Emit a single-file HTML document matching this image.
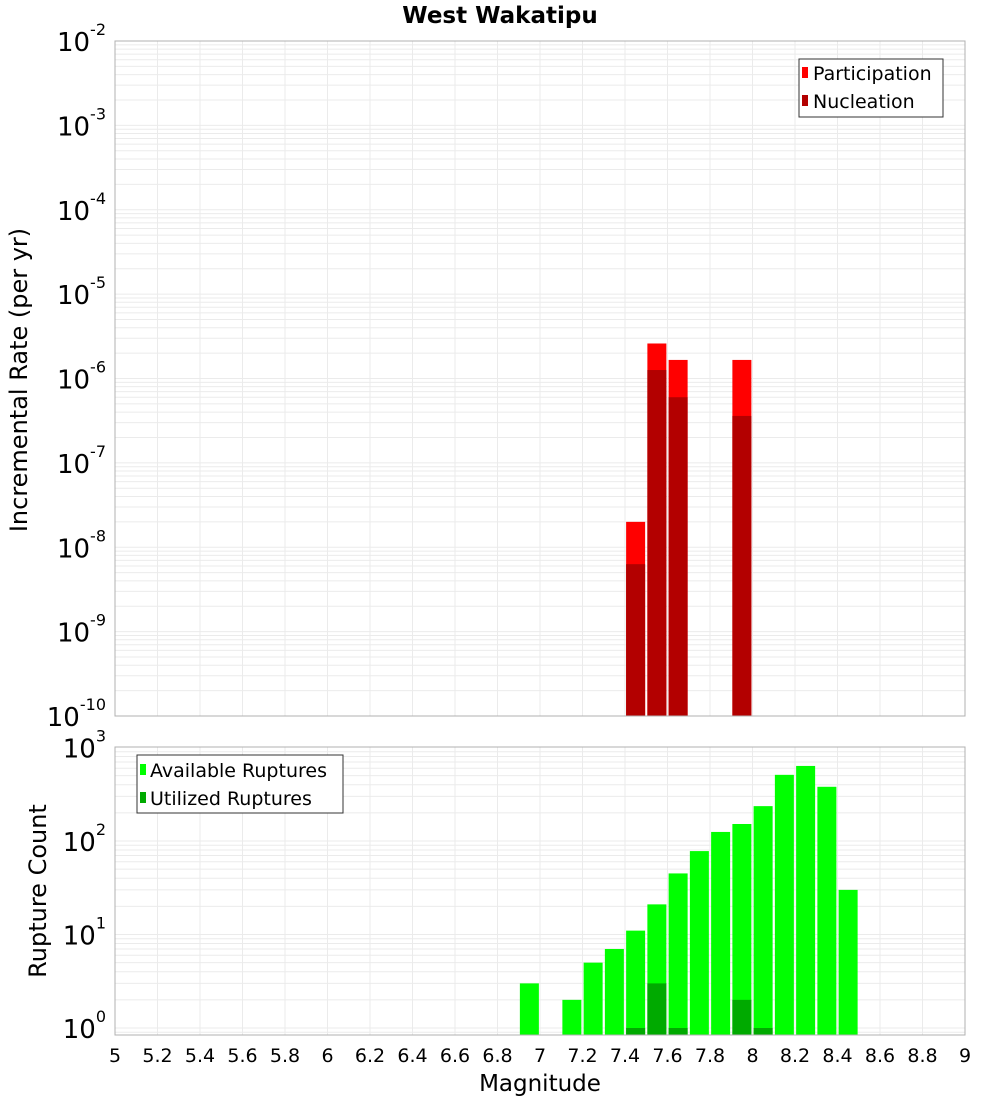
<!DOCTYPE html>
<html><head><meta charset="utf-8"><style>
body{margin:0;background:#fff;font-family:"DejaVu Sans","Liberation Sans",sans-serif}
</style></head><body>
<svg id="c" width="1000" height="1100" xmlns="http://www.w3.org/2000/svg" font-family="DejaVu Sans, Liberation Sans, sans-serif">
<text x="500" y="23" text-anchor="middle" font-size="23" font-weight="bold">West Wakatipu</text>
<g id="top"></g>
<g id="bot"></g>
</svg>
<script>
const rateMags=[7.45,7.55,7.65,7.95];
const participation=[2.0e-8,2.6e-6,1.66e-6,1.66e-6];
const nucleation=[6.3e-9,1.26e-6,6.0e-7,3.6e-7];
const countMags=[6.95,7.15,7.25,7.35,7.45,7.55,7.65,7.75,7.85,7.95,8.05,8.15,8.25,8.35,8.45];
const available=[3,2,5,7,11,21,45,78,125,152,236,510,635,380,30];
const utilMags=[7.45,7.55,7.65,7.95,8.05];
const utilized=[1,3,1,2,1];
const xTicks=[5,5.2,5.4,5.6,5.8,6,6.2,6.4,6.6,6.8,7,7.2,7.4,7.6,7.8,8,8.2,8.4,8.6,8.8,9];
const topExps=[-2,-3,-4,-5,-6,-7,-8,-9,-10];
const botExps=[3,2,1,0];

const NS="http://www.w3.org/2000/svg";
const X0=115,X1=965;
const xs=m=>X0+(m-5)/4*(X1-X0);
function mk(p,t,a){const e=document.createElementNS(NS,t);for(const k in a)e.setAttribute(k,a[k]);p.appendChild(e);return e;}
const yT=v=>41+(-2-Math.log10(v))*(675/8);
const yB=v=>1028-Math.log10(v)*93.5;

function panel(g,top,bot,yf,lo,hi){
  mk(g,'rect',{x:X0,y:top,width:X1-X0,height:bot-top,fill:'#fff'});
  for(let e=lo;e<hi;e++)for(let k=1;k<10;k++){const y=yf(k*Math.pow(10,e));if(y<top||y>bot)continue;
    const l=mk(g,'line',{x1:X0,x2:X1,y1:y,y2:y,stroke:'#ebebeb','stroke-width':1});
    
    }
  xTicks.forEach(t=>{const l=mk(g,'line',{x1:xs(t),x2:xs(t),y1:top,y2:bot,stroke:'#ebebeb'});
    
    });
}
const gt=document.getElementById('top'),gb=document.getElementById('bot');
panel(gt,41,716,yT,-10,-2);
panel(gb,747,1035,yB,-1,3);
function bar(g,m,v,yf,base,col,name){const y=yf(v);const r=mk(g,'rect',{x:xs(m)-9.5,y:y,width:19,height:base-y,fill:col});
  
  }
rateMags.forEach((m,i)=>bar(gt,m,participation[i],yT,716,'#ff0000','participation-bar'));
rateMags.forEach((m,i)=>bar(gt,m,nucleation[i],yT,716,'#b30000','nucleation-bar'));
countMags.forEach((m,i)=>bar(gb,m,available[i],yB,1035,'#00ff00','available-bar'));
utilMags.forEach((m,i)=>bar(gb,m,utilized[i],yB,1035,'#00aa00','utilized-bar'));
mk(gt,'rect',{x:X0,y:41,width:X1-X0,height:675,fill:'none',stroke:'#b0b0b0'});
mk(gb,'rect',{x:X0,y:747,width:X1-X0,height:288,fill:'none',stroke:'#b0b0b0'});
function ylab(g,e,y){const t=mk(g,'text',{x:106,y:y+10,'text-anchor':'end','font-size':26});
  
  
  t.textContent='10';const s=mk(t,'tspan',{dy:-16,'font-size':16});s.textContent=String(e);}
topExps.forEach(e=>ylab(gt,e,yT(Math.pow(10,e))));
botExps.forEach(e=>ylab(gb,e,yB(Math.pow(10,e))));
xTicks.forEach(t=>{const e=mk(gb,'text',{x:xs(t),y:1062,'text-anchor':'middle','font-size':19});
  
  
  e.textContent=String(t);});
</script>
<svg style="position:absolute;left:0;top:0" width="1000" height="1100" xmlns="http://www.w3.org/2000/svg" font-family="DejaVu Sans, Liberation Sans, sans-serif">
<text x="540" y="1091" text-anchor="middle" font-size="23">Magnitude</text>
<text transform="translate(27,380) rotate(-90)" text-anchor="middle" font-size="24">Incremental Rate (per yr)</text>
<text transform="translate(46,891) rotate(-90)" text-anchor="middle" font-size="24">Rupture Count</text>
<g>
<rect x="799" y="59" width="144" height="58" fill="#fff" stroke="#333"/>
<rect x="802" y="67" width="6" height="11" fill="#ff0000"/>
<text x="813" y="80" font-size="19">Participation</text>
<rect x="802" y="95" width="6" height="11" fill="#b30000"/>
<text x="813" y="108" font-size="19">Nucleation</text>
</g>
<g>
<rect x="137" y="755" width="206" height="58" fill="#fff" stroke="#333"/>
<rect x="140" y="764" width="6" height="11" fill="#00ff00"/>
<text x="150" y="777" font-size="19">Available Ruptures</text>
<rect x="140" y="792" width="6" height="11" fill="#00aa00"/>
<text x="150" y="805" font-size="19">Utilized Ruptures</text>
</g>
</svg>
</body></html>
